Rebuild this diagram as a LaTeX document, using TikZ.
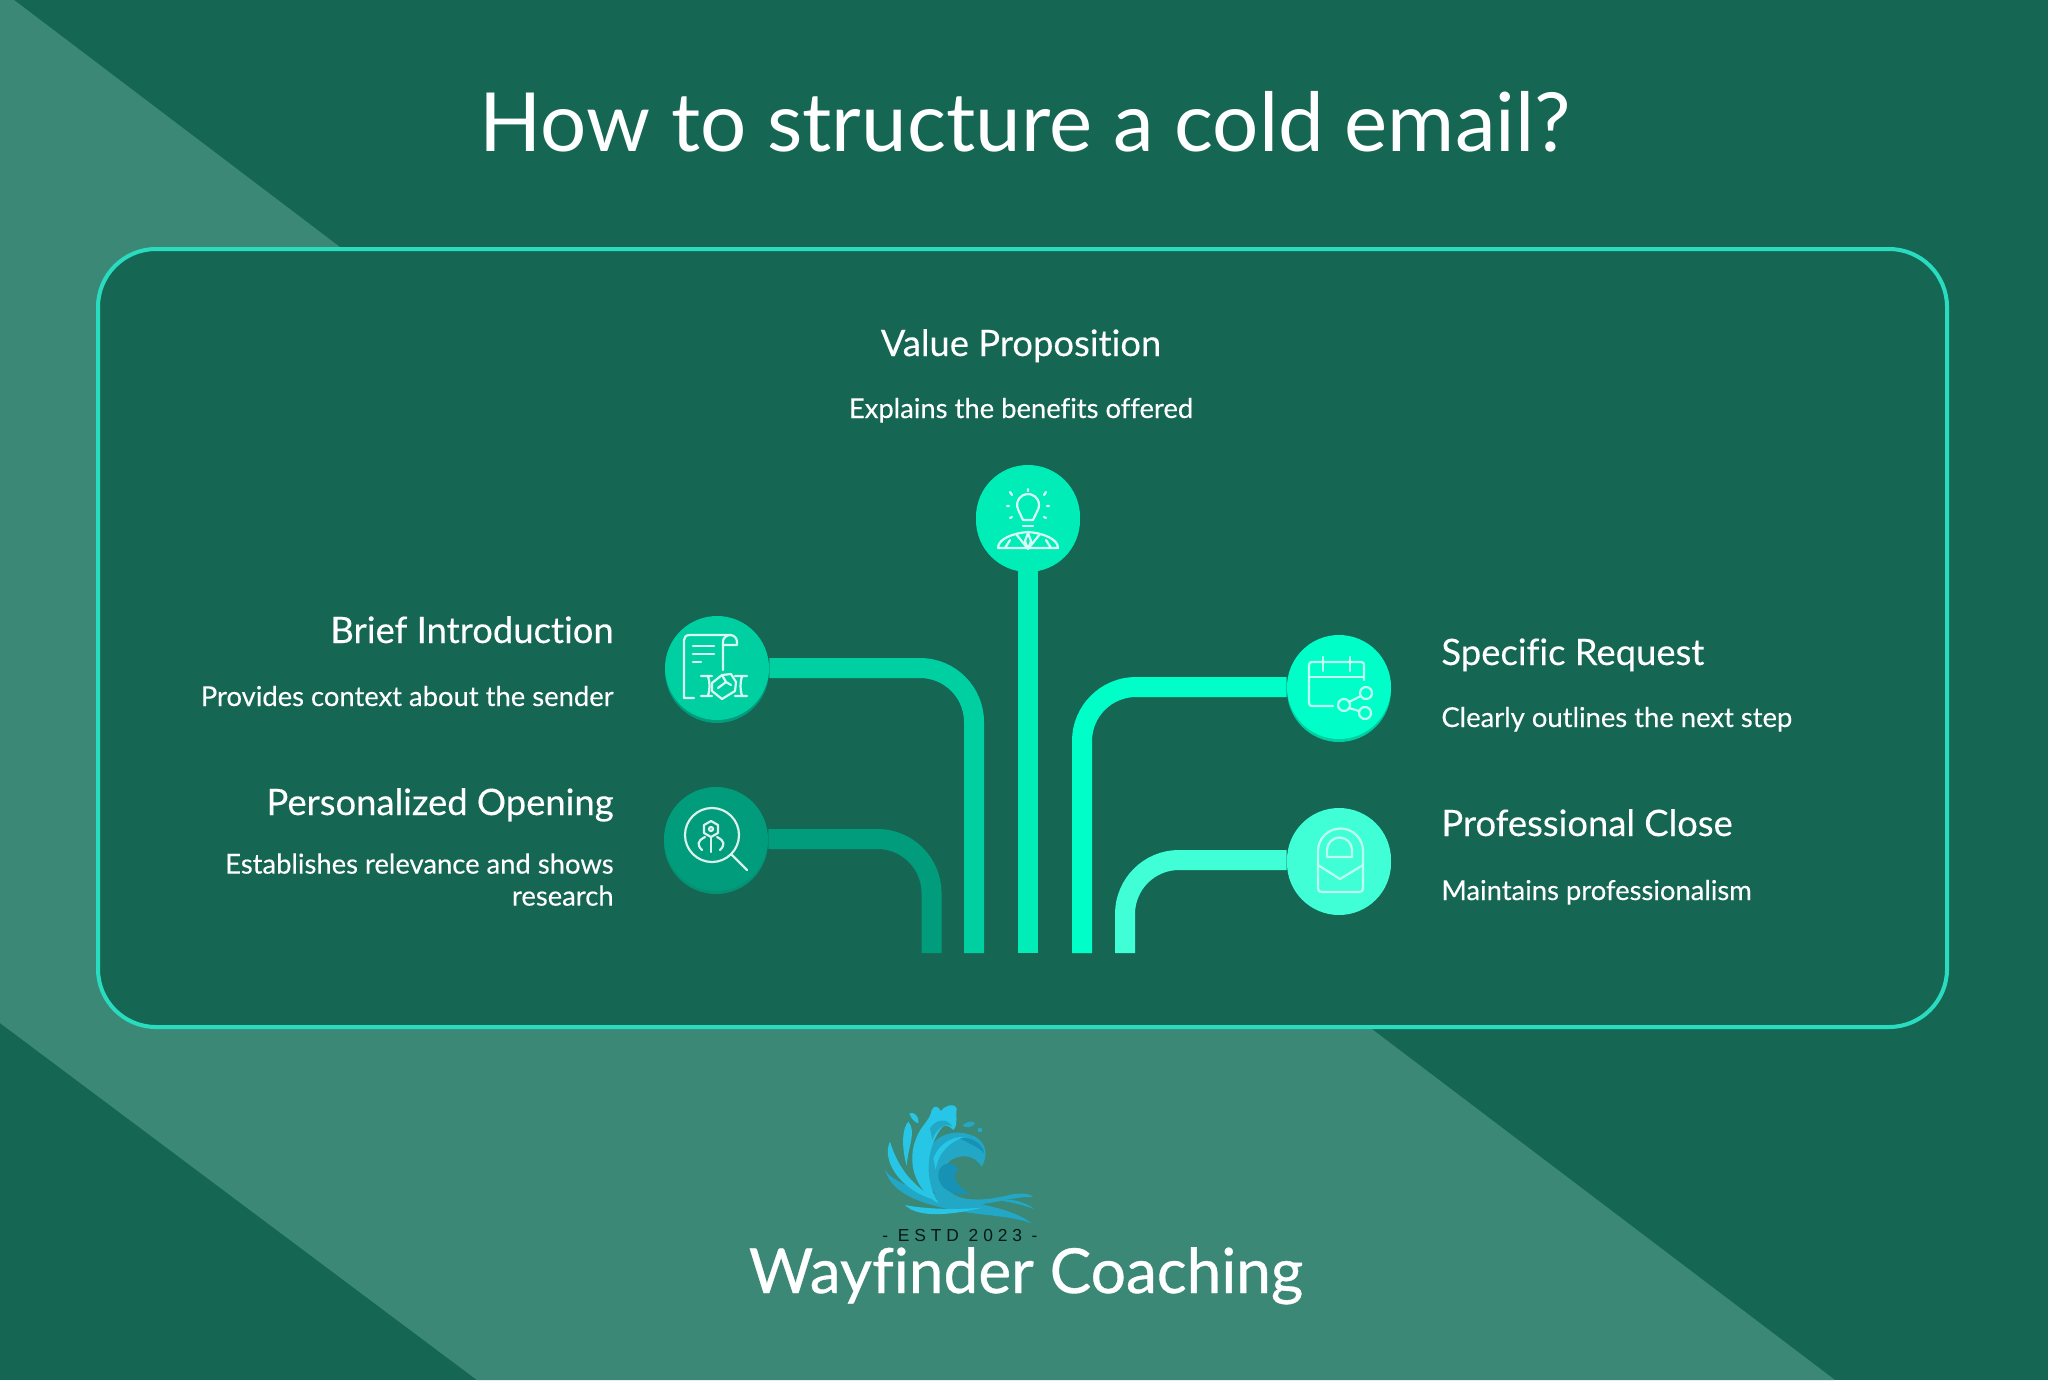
\documentclass[tikz,border=0pt]{standalone}
\usepackage{fontspec}
\setmainfont[RawFeature=-liga]{Lato}
\newfontfamily\headfont[FakeBold=0.25,RawFeature=-liga]{Lato}
\newfontfamily\brandfont[FakeBold=0.6,RawFeature=-liga]{Lato}
\newfontfamily\estdfont[LetterSpace=28]{Liberation Sans}
\usepackage{xcolor}
\usetikzlibrary{positioning}
\usetikzlibrary{calc}
\definecolor{deepgreen}{HTML}{156754}
\definecolor{paleband}{HTML}{3C8876}
\definecolor{panelrim}{HTML}{2ADCBF}
\definecolor{introgreen}{HTML}{00CFA2}
\definecolor{opengreen}{HTML}{009C7C}
\definecolor{valuegreen}{HTML}{00EDB8}
\definecolor{requestgreen}{HTML}{00FFC8}
\definecolor{closegreen}{HTML}{40FFD6}
\definecolor{wavebright}{HTML}{27C6E6}
\definecolor{wavemid}{HTML}{22A7C6}
\definecolor{wavedeep}{HTML}{1792B4}
\tikzset{
    headtext/.style={text=white,inner sep=0pt,font=\headfont\fontsize{18.2}{22}\selectfont},
    subtext/.style={text=white,inner sep=0pt,font=\headfont\fontsize{13.7}{16}\selectfont,align=right},
    stepcircle/.style 2 args={circle,minimum size=52pt,inner sep=0pt,fill=#1,
        preaction={fill=#2,transform canvas={yshift=-1.5pt}}},
    stemline/.style={line width=10pt,rounded corners=27pt,draw=#1},
    iconline/.style={draw=#1,line width=1.1pt,line cap=round,line join=round,fill=none},
}
\begin{document}
\begin{tikzpicture}[x=0.5pt,y=-0.5pt]
    \useasboundingbox (0,0) rectangle (2048,1380);
    \fill[deepgreen] (0,0) rectangle (2048,1380);
    \fill[paleband] (14,0) -- (1835,1380) -- (477,1380) -- (0,1023) -- (0,0) -- cycle;
    \draw[panelrim,fill=deepgreen,line width=2pt,rounded corners=29pt] (98,249) rectangle (1947,1027);

    \node[text=white,inner sep=0pt,font=\fontsize{40.8}{48}\selectfont,anchor=base] (title) at (1025,152) {How to structure a cold email?};

    % circles
    \node[stepcircle={valuegreen}{valuegreen}] (value) at (1028,517) {};
    \node[stepcircle={introgreen}{opengreen}] (intro) at (717,668) {};
    \node[stepcircle={opengreen}{opengreen!80!deepgreen}] (opening) at (716,839) {};
    \node[stepcircle={requestgreen}{introgreen}] (request) at (1339,687) {};
    \node[stepcircle={closegreen}{closegreen}] (closing) at (1339,860) {};

    % lower ends of the stems
    \coordinate (valueend) at (1028,953);
    \coordinate (introend) at (974,953);
    \coordinate (openingend) at (931.5,953);
    \coordinate (requestend) at (1082,953);
    \coordinate (closingend) at (1125,953);

    \draw[stemline=valuegreen] (value.south) -- (valueend);
    \draw[stemline=introgreen] (intro.east) -| (introend);
    \draw[stemline=opengreen] (opening.east) -| (openingend);
    \draw[stemline=requestgreen] (request.west) -| (requestend);
    \draw[stemline=closegreen] (closing.west) -| (closingend);

    % labels
    \node[headtext,anchor=base] (valuehead) at (1021,356) {Value Proposition};
    \node[subtext,below=31pt of valuehead.base,anchor=base] (valuesub) {Explains the benefits offered};
    \node[headtext,anchor=base east] (introhead) at (614,643) {Brief Introduction};
    \node[subtext,below=31.5pt of introhead.base east,anchor=base east] (introsub) {Provides context about the sender};
    \node[headtext,anchor=base east] (openinghead) at (614,815) {Personalized Opening};
    \node[subtext,anchor=north east] (openingsub) at (614,853) {Establishes relevance and shows\\research};
    \node[headtext,anchor=base west] (requesthead) at (1441,665) {Specific Request};
    \node[subtext,below=31pt of requesthead.base west,anchor=base west] (requestsub) {Clearly outlines the next step};
    \node[headtext,anchor=base west] (closinghead) at (1441,836) {Professional Close};
    \node[subtext,below=32pt of closinghead.base west,anchor=base west] (closingsub) {Maintains professionalism};

    % bulb and person
    \begin{scope}[shift={(value)},every path/.style={iconline=white!85!valuegreen}]
        \draw (-9.5,-6.5) arc[start angle=150,end angle=390,radius=11] -- (5,3) -- (-5,3) -- cycle;
        \draw (-5,9) -- (5,9);
        \draw (0,-28) -- (0,-26) (-18,-25) -- (-16,-22) (18,-25) -- (16,-22);
        \draw (-21,-11) -- (-19,-11) (21,-11) -- (19,-11) (-18,1) -- (-16,0) (18,1) -- (16,0);
        \draw (-30,31) .. controls (-30,22) and (-15,16) .. (0,15) .. controls (15,16) and (30,22) .. (30,31) -- (-30,31);
        \draw (-12,17) -- (0,32) -- (12,17) (0,16) -- (-3,24) -- (0,32) -- (3,24) -- cycle;
        \draw (-23,31) -- (-18,23) (23,31) -- (18,23);
    \end{scope}

    % scroll and handshake
    \begin{scope}[shift={(intro)},every path/.style={iconline=white!85!introgreen}]
        \draw (-23,30) -- (-33,30) -- (-33,-28) .. controls (-33,-31) and (-31,-33) .. (-27,-33) -- (13,-33)
            .. controls (17,-33) and (20,-30) .. (20,-26) -- (20,-23) -- (6,-23) -- (6,2);
        \draw (6,-23) -- (6,-27) .. controls (6,-30) and (10,-33) .. (13,-33);
        \draw (-24,-22) -- (-3,-22) (-24,-14) -- (-3,-14) (-24,-6) -- (-16,-6);
        \draw (-16,8) -- (-5,8) (-16,28) -- (-5,28) (-9,8) .. controls (-7,15) and (-7,21) .. (-9,28);
        \draw (18,8) -- (30,8) (18,28) -- (30,28) (25,8) .. controls (23,15) and (23,21) .. (25,28);
        \draw (-5,15) -- (5,7) -- (14,6) -- (19,14) -- (18,23) -- (5,31) -- (-5,23) -- cycle;
        \draw (5,7) -- (9,14) -- (1,20) (9,14) -- (14,17);
    \end{scope}

    % magnifier
    \begin{scope}[shift={(opening)},every path/.style={iconline=white!85!opengreen}]
        \draw (-4,-4) circle[radius=27];
        \draw (15,15) -- (31,31);
        \draw (-5,-18) -- (2,-14) -- (2,-6) -- (-5,-2) -- (-12,-6) -- (-12,-14) -- cycle;
        \draw (-5,-10) circle[radius=2];
        \draw (-5,-2) -- (-5,13);
        \draw (-11,-2) .. controls (-19,2) and (-19,6) .. (-14,11);
        \draw (1,-2) .. controls (9,2) and (9,6) .. (4,11);
    \end{scope}

    % calendar and share
    \begin{scope}[shift={(request)},every path/.style={iconline=white!75!requestgreen}]
        \draw (-6,19) -- (-27,19) .. controls (-29,19) and (-30,18) .. (-30,16) -- (-30,-22)
            .. controls (-30,-24) and (-29,-25) .. (-27,-25) -- (22,-25) .. controls (24,-25) and (25,-24) .. (25,-22) -- (25,-7);
        \draw (-30,-10) -- (25,-10);
        \draw (-16,-30) -- (-16,-16) (11,-30) -- (11,-16);
        \draw (27,6) circle[radius=6] (5,18) circle[radius=6] (26,26) circle[radius=6];
        \draw (10,15) -- (22,9) (10,21) -- (20,24);
    \end{scope}

    % padlock envelope
    \begin{scope}[shift={(closing)},every path/.style={iconline=white!65!closegreen}]
        \draw (-21,5) -- (-21,-9) arc[start angle=180,end angle=360,radius=22.5] -- (24,5) -- (24,28)
            .. controls (24,31) and (23,32) .. (20,32) -- (-17,32) .. controls (-20,32) and (-21,31) .. (-21,28) -- cycle;
        \draw (-12,-3) -- (-12,-10) arc[start angle=180,end angle=360,radius=12.5] -- (13,-3) -- cycle;
        \draw (-21,5) -- (1,19) -- (24,5);
    \end{scope}

    % wave
    \begin{scope}[shift={(875,1095)},x=0.1667pt,y=-0.1667pt]
        \fill[wavemid] (30,225) .. controls (50,290) and (120,325) .. (260,350) .. controls (340,362) and (420,365) .. (470,385)
            .. controls (420,345) and (330,330) .. (240,310) .. controls (150,290) and (60,270) .. (30,225) -- cycle;
        \fill[wavebright] (45,140) .. controls (25,180) and (50,250) .. (130,295) .. controls (150,305) and (170,312) .. (190,318)
            .. controls (110,270) and (70,220) .. (45,140) -- cycle;
        \fill[wavebright] (90,330) .. controls (150,342) and (240,345) .. (320,338) .. controls (240,358) and (130,372) .. (90,330) -- cycle;
        \fill[wavebright] (100,80) .. controls (80,100) and (80,160) .. (95,212) .. controls (100,150) and (125,110) .. (100,80) -- cycle;
        \fill[wavebright] (103,55) .. controls (115,48) and (135,65) .. (130,85) .. controls (115,80) and (108,68) .. (103,55) -- cycle;
        % body of the crest
        \fill[wavemid] (150,200) .. controls (160,120) and (240,95) .. (300,125) .. controls (335,145) and (340,180) .. (320,215)
            .. controls (305,190) and (280,180) .. (255,185) .. controls (215,190) and (180,235) .. (225,290)
            .. controls (250,315) and (310,320) .. (380,305) .. controls (420,295) and (450,290) .. (475,305)
            .. controls (400,305) and (340,335) .. (260,328) .. controls (190,320) and (145,280) .. (150,200) -- cycle;
        \fill[wavebright] (190,325) .. controls (105,275) and (85,165) .. (150,85) .. controls (160,72) and (168,60) .. (170,45)
            .. controls (178,28) and (192,35) .. (197,48) .. controls (210,32) and (235,22) .. (245,40)
            .. controls (240,60) and (252,85) .. (235,105)
            .. controls (215,85) and (205,90) .. (195,105) .. controls (150,170) and (150,260) .. (190,325) -- cycle;
        \fill[wavemid] (165,100) .. controls (180,75) and (215,65) .. (232,95) .. controls (210,80) and (180,105) .. (172,135) -- cycle;
        \fill[wavebright] (175,190) .. controls (190,150) and (225,125) .. (270,125) .. controls (225,140) and (190,170) .. (182,225) -- cycle;
        \fill[wavedeep] (190,240) .. controls (190,200) and (240,195) .. (250,225) .. controls (230,235) and (240,275) .. (285,295)
            .. controls (240,305) and (190,285) .. (190,240) -- cycle;
        \fill[wavedeep] (255,130) .. controls (285,125) and (320,140) .. (328,175) .. controls (310,155) and (280,145) .. (255,130) -- cycle;
        \fill[wavemid] (262,92) .. controls (275,78) and (295,75) .. (300,85) .. controls (290,98) and (275,100) .. (262,92) -- cycle;
        \fill[wavemid] (315,105) circle[radius=7];
        \fill[wavemid] (370,315) .. controls (410,310) and (450,320) .. (478,342) .. controls (445,330) and (410,322) .. (370,315) -- cycle;
    \end{scope}

    \node[text=black!75!deepgreen,inner sep=0pt,font=\estdfont\fontsize{8.7}{10}\selectfont,anchor=base] (estd) at (960,1241) {- ESTD 2023 -};
    \node[text=white,inner sep=0pt,font=\brandfont\fontsize{31.1}{38}\selectfont,anchor=base] (brand) at (1026,1293) {Wayfinder Coaching};
\end{tikzpicture}
\end{document}
